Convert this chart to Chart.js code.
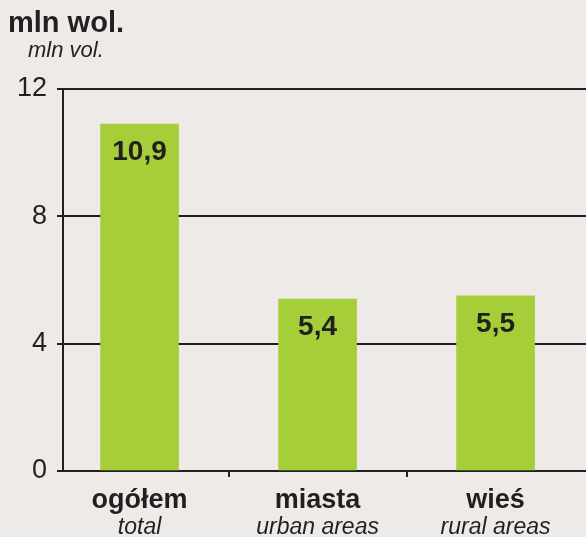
<!DOCTYPE html>
<html>
<head>
<meta charset="utf-8">
<script src="https://cdn.jsdelivr.net/npm/chart.js@4"></script>
<style>
  html, body { margin: 0; padding: 0; background: #eeeae8; overflow: hidden; }
  #wrap { width: 586px; height: 537px; }
</style>
</head>
<body>
<div id="wrap"><canvas id="volChart"></canvas></div>
<script>
// data
const categories = ['ogółem', 'miasta', 'wieś'];
const categoriesEn = ['total', 'urban areas', 'rural areas'];
const values = [10.9, 5.4, 5.5];
const yTicks = [0, 4, 8, 12];

const ink = '#231f20';
const font = '"Liberation Sans", Arial, sans-serif';

// titles, x labels and value labels
const textPlugin = {
  id: 'texts',
  afterDatasetsDraw(chart) {
    const ctx = chart.ctx;
    ctx.save();
    ctx.fillStyle = ink;
    ctx.textAlign = 'center';
    ctx.textBaseline = 'middle';
    ctx.font = 'bold 28px ' + font;
    chart.getDatasetMeta(0).data.forEach((bar, i) => {
      ctx.fillText(values[i].toFixed(1).replace('.', ','), bar.x, bar.y + 28);
    });
    ctx.restore();
  },
  afterDraw(chart) {
    const ctx = chart.ctx;
    const x = chart.scales.x;
    const bottom = chart.chartArea.bottom;
    ctx.save();
    ctx.fillStyle = ink;
    ctx.textBaseline = 'alphabetic';
    ctx.textAlign = 'left';
    ctx.font = 'bold 29px ' + font;
    ctx.fillText('mln wol.', 8, 32);
    ctx.font = 'italic 22px ' + font;
    ctx.fillText('mln vol.', 28, 57);
    ctx.textAlign = 'center';
    categories.forEach((c, i) => {
      const px = x.getPixelForValue(i);
      ctx.font = 'bold 27px ' + font;
      ctx.fillText(c, px, bottom + 37);
      ctx.font = 'italic 23px ' + font;
      ctx.fillText(categoriesEn[i], px, bottom + 63);
    });
    ctx.restore();
  }
};

const config = {
  type: 'bar',
  data: {
    datasets: [{
      data: values.map((v, i) => ({ x: i, y: v })),
      backgroundColor: '#a6ce39',
      barThickness: 78
    }]
  },
  options: {
    responsive: true,
    maintainAspectRatio: false,
    animation: false,
    layout: { padding: { top: 89, right: 0, bottom: 60, left: 0 } },
    plugins: { legend: { display: false }, tooltip: { enabled: false } },
    scales: {
      x: {
        type: 'linear',
        offset: false,
        min: -0.43,
        max: 2.508,
        afterBuildTicks: s => { s.ticks = [{ value: 0.5 }, { value: 1.5 }]; },
        ticks: { display: false },
        grid: { offset: false, drawOnChartArea: false, drawTicks: true, tickLength: 6, color: ink, lineWidth: 2 },
        border: { color: ink, width: 2 }
      },
      y: {
        min: 0,
        max: 12,
        afterBuildTicks: s => { s.ticks = yTicks.map(v => ({ value: v })); },
        afterFit: s => { s.width = 63; },
        ticks: { color: ink, font: { family: font, size: 27 }, padding: 10 },
        grid: { color: ink, lineWidth: 2, tickLength: 6 },
        border: { color: ink, width: 2 }
      }
    }
  },
  plugins: [textPlugin]
};

const volChart = new Chart(document.getElementById('volChart'), config);
</script>
</body>
</html>
